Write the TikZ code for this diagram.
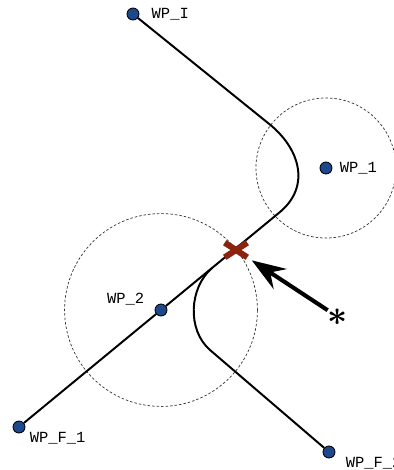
\documentclass[tikz,border=0pt]{standalone}
\usepackage{fontspec}
\setmonofont{Liberation Mono}
\usetikzlibrary{arrows.meta, positioning}
\definecolor{wpblue}{RGB}{30,72,140}
\definecolor{hitred}{RGB}{140,35,15}

\begin{document}
\begin{tikzpicture}[x=0.025cm, y=-0.025cm,
    wp/.style={circle, draw=black, fill=wpblue, minimum size=0.3cm, inner sep=0pt, line width=0.6pt},
    lbl/.style={font=\ttfamily\fontsize{11}{13}\selectfont, inner sep=0pt},
    track/.style={line width=1.4pt, black},
    zone/.style={line width=0.5pt, black!80, dash pattern=on 1.8pt off 1.4pt},
    hitmark/.style={line width=4.3pt, hitred},
    push/.style={line width=2.9pt, -{Stealth[length=0.85cm, width=0.6cm, inset=0.3cm]}}]
    \useasboundingbox (0,0) rectangle (394,470);

    % 1. Waypoints and their labels
    \node[wp] (wpI)  at (133,14)  {};
    \node[wp] (wp1)  at (326,168) {};
    \node[wp] (wp2)  at (161,310) {};
    \node[wp] (wpF1) at (19,427)  {};
    \node[wp] (wpF2) at (329,452) {};
    \node[lbl, right=0.3cm of wpI] (lblI) {WP\_I};
    \node[lbl, right=0.18cm of wp1] (lbl1) {WP\_1};
    \node[lbl, above left=0cm and 0.3cm of wp2] (lbl2) {WP\_2};
    \node[lbl, below right=0cm and 0.15cm of wpF1] (lblF1) {WP\_F\_1};
    \node[lbl, below right=0cm and 0.3cm of wpF2] (lblF2) {WP\_F\_2};

    % 2. Dotted zones round WP_1 and WP_2
    \draw[zone] (wp1) circle[radius=1.75cm];
    \draw[zone] (wp2) circle[radius=2.41cm];

    % 3. Planned track, and the new track leaving it
    \coordinate (bendin)  at (268,123);
    \coordinate (bendout) at (280,212);
    \coordinate (replan)  at (212,268);
    \coordinate (rejoin)  at (210,350);
    \draw[track] (wpI) -- (bendin) .. controls (300,148) and (311,186) .. (bendout) -- (wp2) -- (wpF1);
    \draw[track] (replan) .. controls (189,288) and (187,330) .. (rejoin) -- (wpF2);

    % 4. Hit mark and the push arrow
    \node[minimum width=0.55cm, minimum height=0.35cm, inner sep=0pt] (hit) at (236,250) {};
    \draw[hitmark] (hit.north west) -- (hit.south east);
    \draw[hitmark] (hit.south west) -- (hit.north east);
    \node[inner sep=0pt, font=\fontsize{27}{30}\selectfont\boldmath] (star) at (338,317) {$\ast$};
    \draw[push, shorten >=4pt] (star) -- (hit);

\end{tikzpicture}
\end{document}
